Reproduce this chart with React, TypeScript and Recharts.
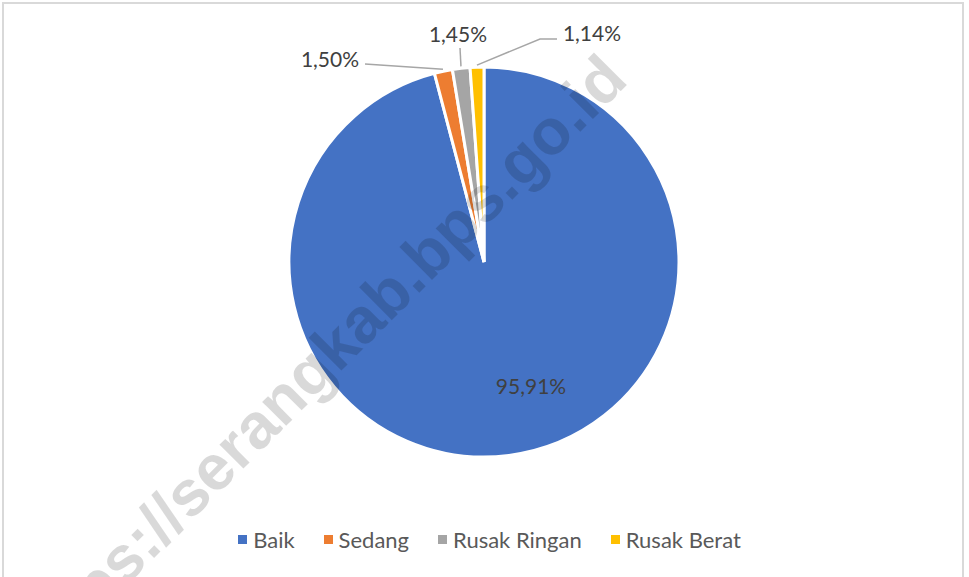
import React from "react";
import { PieChart, Pie, Cell, Legend } from "recharts";

const categories = ["Baik", "Sedang", "Rusak Ringan", "Rusak Berat"];
const shares = [95.91, 1.5, 1.45, 1.14];
const valueLabels = ["95,91%", "1,50%", "1,45%", "1,14%"];
const colors = ["#4472C4", "#ED7D31", "#A5A5A5", "#FFC000"];

const data = categories.map((name, i) => ({ name, value: shares[i], label: valueLabels[i] }));

// label placement relative to pie centre (px), and leader-line elbows
const labelLayout = [
  { dx: 47, dy: 123, line: null as null | number[][] },
  { dx: -154, dy: -204, line: [[-119, -198]] },
  { dx: -26, dy: -229, line: [[-24, -214]] },
  { dx: 108, dy: -230, line: [[73, -223], [56, -223]] },
];

const RAD = Math.PI / 180;

const renderLabel = (props: any) => {
  const { cx, cy, midAngle, outerRadius, index } = props;
  const lay = labelLayout[index];
  const tx = cx + lay.dx;
  const ty = cy + lay.dy;
  let path: string | null = null;
  if (lay.line) {
    const ex = cx + (outerRadius + 2) * Math.cos(-midAngle * RAD);
    const ey = cy + (outerRadius + 2) * Math.sin(-midAngle * RAD);
    const pts = lay.line.map((p) => [cx + p[0], cy + p[1]]);
    path = "M" + pts.map((p) => p[0] + "," + p[1]).join(" L") + " L" + ex + "," + ey;
  }
  return (
    <g>
      {path && <path d={path} stroke="#A6A6A6" strokeWidth={1.5} fill="none" />}
      <text
        x={tx}
        y={ty}
        textAnchor="middle"
        dominantBaseline="central"
        fill="#404040"
        style={{ fontFamily: "Lato", fontSize: 21 }}
      >
        {data[index].label}
      </text>
    </g>
  );
};

const renderLegend = () => (
  <div
    style={{
      display: "flex",
      justifyContent: "center",
      alignItems: "center",
      fontFamily: "Lato",
      fontSize: 22,
      color: "#595959",
      paddingLeft: 10,
    }}
  >
    {categories.map((c, i) => (
      <div key={c} style={{ display: "flex", alignItems: "center", marginRight: i < categories.length - 1 ? 29 : 0 }}>
        <span style={{ display: "inline-block", width: 9, height: 9, background: colors[i], marginRight: 6 }} />
        <span>{c}</span>
      </div>
    ))}
  </div>
);

export default function App() {
  return (
    <div style={{ position: "absolute", left: 0, top: 0, width: 969, height: 577, overflow: "hidden", background: "#fff" }}>
      <div
        style={{
          position: "absolute",
          left: 2,
          top: 2,
          width: 958,
          height: 600,
          border: "2px solid #D9D9D9",
        }}
      />
      <PieChart
        width={969}
        height={577}
        margin={{ top: 0, right: 0, bottom: 0, left: 0 }}
        style={{ position: "absolute", left: 0, top: 0 }}
      >
        <Pie
          data={data}
          dataKey="value"
          nameKey="name"
          cx={484}
          cy={262}
          outerRadius={195}
          startAngle={90}
          endAngle={-270}
          stroke="#FFFFFF"
          strokeWidth={3}
          label={renderLabel}
          labelLine={false}
          isAnimationActive={false}
        >
          {data.map((d, i) => (
            <Cell key={d.name} fill={colors[i]} />
          ))}
        </Pie>
        <Legend content={renderLegend} wrapperStyle={{ position: "absolute", top: 526, left: 0, width: 969 }} />
      </PieChart>
      <svg width={969} height={577} style={{ position: "absolute", left: 0, top: 0, pointerEvents: "none" }}>
        <text
          x={630}
          y={82}
          textAnchor="end"
          transform="rotate(-45 630 82)"
          fill="#000"
          fillOpacity={0.15}
          style={{ fontFamily: "Liberation Sans", fontWeight: 700, fontSize: 64 }}
        >
          https://serangkab.bps.go.id
        </text>
      </svg>
    </div>
  );
}
